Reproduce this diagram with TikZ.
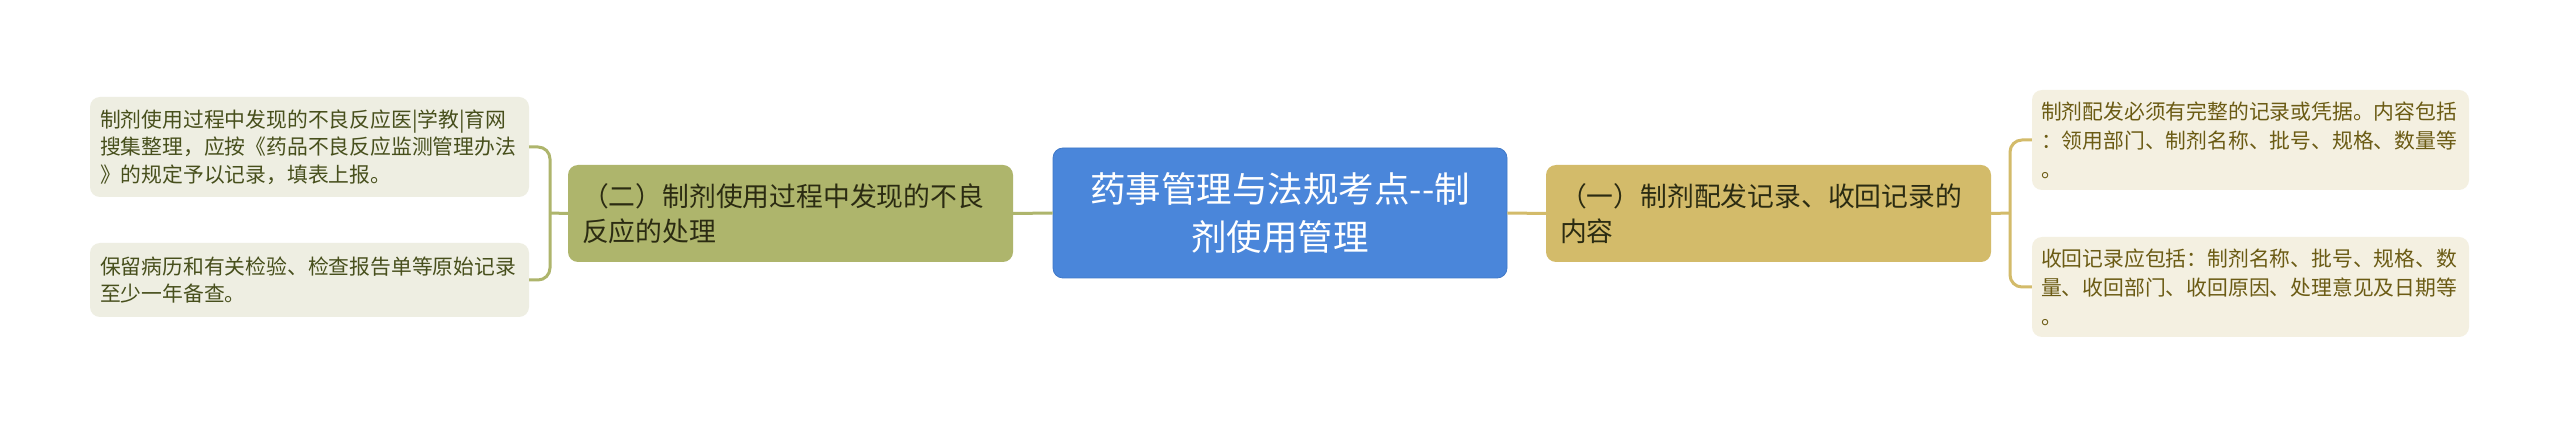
\documentclass[tikz,border=0pt]{standalone}
\usepackage{fontspec}
\setmainfont{Noto Sans CJK SC}
\definecolor{cblue}{HTML}{4A86DA}
\definecolor{cblueb}{HTML}{3F78C8}
\definecolor{colive}{HTML}{AEB56C}
\definecolor{cgold}{HTML}{D3BB6A}
\definecolor{lleaf}{HTML}{EEEEE2}
\definecolor{rleaf}{HTML}{F4F0E1}
\definecolor{ltext}{HTML}{474F1C}
\definecolor{rtext}{HTML}{6B5B14}
\definecolor{mtext}{HTML}{2B2B12}
\tikzset{
  box/.style={rounded corners=10pt, inner ysep=0pt, align=left, anchor=center},
  leafL/.style={box, fill=lleaf, text=ltext, minimum width=439pt, text width=419pt, inner xsep=10pt,
     font=\fontsize{20.8}{27.5}\selectfont},
  leafR/.style={box, fill=rleaf, text=rtext, minimum width=437pt, text width=419pt, inner xsep=9pt,
     font=\fontsize{20.8}{29}\selectfont},
  midL/.style={box, fill=colive, text=mtext, minimum width=445pt, text width=417pt, inner xsep=14pt,
     minimum height=97pt, font=\fontsize{26.8}{35}\selectfont},
  midR/.style={box, fill=cgold, text=mtext, minimum width=445pt, text width=417pt, inner xsep=14pt,
     minimum height=97pt, font=\fontsize{26.8}{35}\selectfont},
  rootbox/.style={rounded corners=10pt, fill=cblue, draw=cblueb, line width=0.8pt, text=white, align=center,
     minimum width=454pt, minimum height=130pt, text width=430pt, inner xsep=12pt,
     font=\fontsize{35.5}{48}\selectfont},
  connL/.style={draw=colive, line width=3pt},
  connR/.style={draw=cgold, line width=3pt},
}
\begin{document}
\begin{tikzpicture}[x=1pt,y=-1pt]
\useasboundingbox[fill=white] (0,0) rectangle (2560,427);
\node[rootbox] (root) at (1280,213) {药事管理与法规考点-{}-制\\剂使用管理};
\node[midL] (lmid) at (790.5,213.5) {（二）制剂使用过程中发现的不良\\反应的处理};
\node[midR] (rmid) at (1768.5,213.5) {（一）制剂配发记录、收回记录的\\内容};
\node[leafL, minimum height=100pt] (l1) at (309.5,147) {制剂使用过程中发现的不良反应医|学教|育网\\搜集整理，应按《药品不良反应监测管理办法\\》的规定予以记录，填表上报。};
\node[leafL, minimum height=74pt] (l2) at (309.5,280) {保留病历和有关检验、检查报告单等原始记录\\至少一年备查。};
\node[leafR, minimum height=100pt] (r1) at (2250.5,140) {制剂配发必须有完整的记录或凭据。内容包括\\：领用部门、制剂名称、批号、规格、数量等\\。};
\node[leafR, minimum height=100pt] (r2) at (2250.5,287) {收回记录应包括：制剂名称、批号、规格、数\\量、收回部门、收回原因、处理意见及日期等\\。};
\coordinate (lj) at (550,213);
\coordinate (rj) at (2010,213);
\draw[connL] (root.west) -- (lmid.east);
\draw[connR] (root.east) -- (rmid.west);
\draw[connL] (lmid.west) -- (lj);
\draw[connL, rounded corners=12pt] (l1.east) -| (lj) |- (l2.east);
\draw[connR] (rmid.east) -- (rj);
\draw[connR, rounded corners=12pt] (r1.west) -| (rj) |- (r2.west);
\end{tikzpicture}
\end{document}
